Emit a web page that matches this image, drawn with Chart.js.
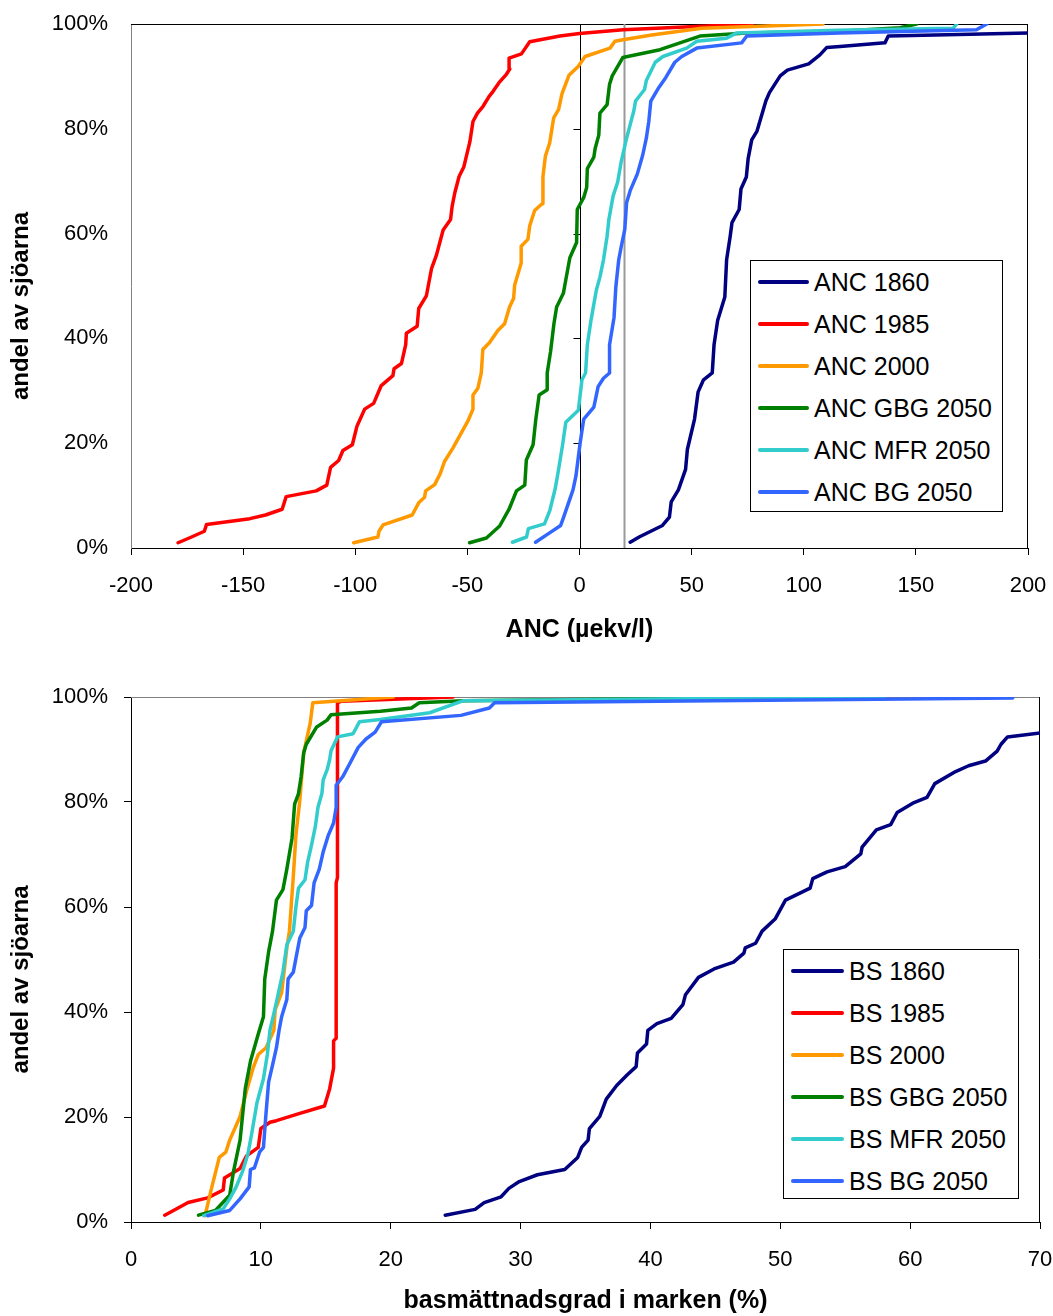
<!DOCTYPE html>
<html>
<head>
<meta charset="utf-8">
<title>ANC och basmättnadsgrad</title>
<script src="https://cdn.jsdelivr.net/npm/chart.js@4.4.1/dist/chart.umd.min.js"></script>
<style>
body { margin: 0; background: #fff; font-family: Arial, "Liberation Sans", sans-serif; }
#page { position: relative; width: 1053px; height: 1316px; overflow: hidden; }
#page canvas { position: absolute; left: 0; }
.legend { position: absolute; box-sizing: border-box; border: 1px solid #000; background: #fff; }
.legend .row { height: 42px; display: flex; align-items: center; font-size: 25px; color: #000; white-space: nowrap; }
.legend .swatch { display: inline-block; height: 4px; margin-left: 7px; margin-right: 5px; border-radius: 2px; }
</style>
</head>
<body>
<div id="page">
  <canvas id="ancChart" width="1053" height="658" style="top:0px"></canvas>
  <canvas id="bsChart" width="1053" height="658" style="top:658px"></canvas>
  <div id="ancLegend" class="legend" style="left:750px;top:260px;width:253px;height:252px"></div>
  <div id="bsLegend" class="legend" style="left:783px;top:949px;width:236px;height:250px"></div>
</div>
<script>
// ---- ANC (µekv/l) mot andel av sjöarna (%) ----
const ancLabels = ['ANC 1860', 'ANC 1985', 'ANC 2000', 'ANC GBG 2050', 'ANC MFR 2050', 'ANC BG 2050']

const anc1860_x = [22.6, 26.6, 37, 40.1, 40.9, 44.1, 47.3, 48.1, 51.3, 52.9, 55.3, 59.2, 60, 61.6, 64.8, 65.6, 67.2, 68, 71.2, 72, 74.4, 75.2, 76.8, 79.1, 83.1, 84.7, 89.5, 92.7, 102.2, 107.2, 110.2, 116.2, 136.2, 137.7, 200]
const anc1860_y = [1.1, 2.1, 4.3, 5.9, 8.8, 11.1, 15, 18.8, 24.6, 29.8, 32.1, 33.4, 38.8, 43.4, 47.9, 55, 59.5, 62.1, 64.6, 68.5, 70.8, 74.3, 77.9, 79.5, 85.3, 86.9, 90.1, 91.2, 92.4, 94.1, 95.5, 95.7, 96.4, 97.7, 98.3]

const anc1985_x = [-179, -173, -167.3, -166.3, -147, -140, -132.6, -130.8, -117.4, -112.7, -111, -107.4, -105.5, -101.3, -99.2, -95.8, -91.8, -88.4, -83.2, -82.7, -79.4, -77.5, -77.2, -72.4, -71.7, -68.3, -66, -63.8, -60.8, -57.5, -56.8, -55.6, -53.7, -51.6, -50.7, -48.9, -47.5, -45.5, -43, -40.3, -38.6, -35.9, -32.6, -31.1, -31.4, -25.9, -22.2, -8.7, 0, 19.4, 77]
const anc1985_y = [1, 2.1, 3.2, 4.5, 5.6, 6.3, 7.4, 9.8, 10.9, 12, 15.4, 16.7, 18.6, 19.7, 23.3, 26.5, 27.6, 31, 32.9, 34.2, 35.2, 38.8, 41, 42.3, 45.7, 48.1, 53.3, 55.9, 60.7, 62.7, 65.2, 67.8, 70.9, 72.7, 74.3, 77.5, 81.4, 83, 84.3, 86.2, 87.1, 88.8, 90.4, 91.4, 93.5, 94.3, 96.6, 97.7, 98.2, 98.9, 100]

const anc2000_x = [-100.7, -89.9, -89.4, -87.6, -74.6, -71.6, -69.1, -68.6, -64.6, -62.1, -60.2, -56.4, -49.8, -47.5, -47.5, -45.3, -43.8, -43.1, -40.1, -36.4, -33.4, -31.2, -29.4, -28.9, -26, -26, -23, -22.2, -20, -16.7, -16.3, -15.2, -13.3, -11.5, -9.3, -7.8, -4.7, -0.6, 2.5, 13.6, 15.8, 19.4, 32.2, 54.5, 108.6]
const anc2000_y = [1, 2.1, 3.2, 4.4, 6.3, 8.7, 9.7, 10.9, 12.1, 14.2, 16.5, 19.1, 24.2, 26.5, 29.2, 30.5, 33.4, 37.9, 39.2, 41.5, 42.8, 46, 47.6, 50.2, 54.4, 57.6, 58.9, 61.5, 64.4, 65.7, 70.9, 74.8, 77.3, 82.1, 83.7, 86.7, 90.2, 91.9, 93.8, 95.4, 96.7, 97, 97.9, 99.2, 100]

const ancGbg_x = [-49, -41.5, -35.6, -31.4, -28.1, -24.4, -23.7, -20.7, -19.5, -18, -14.4, -14.4, -12.9, -11.4, -10.2, -7.2, -6.1, -4.3, -1.3, -1, 1.9, 3.2, 3.5, 6.4, 7, 8.6, 9.1, 12.3, 13.4, 14.6, 19.3, 35.9, 53.7, 74.6, 116, 142.9, 150.4]
const ancGbg_y = [1, 1.9, 4.2, 7.4, 10.9, 12, 16.8, 19.7, 24.5, 29.2, 30.2, 33.4, 37.5, 42.8, 46, 48.6, 51.2, 55.4, 58.3, 64.6, 66.9, 68.8, 72.4, 74.6, 76.3, 78.8, 83, 84.6, 88.5, 90.1, 93.6, 95.1, 97.7, 98.3, 98.6, 99.3, 100]

const ancMfr_x = [-29.9, -23.6, -22.8, -15.6, -13.2, -10.8, -9.6, -7.6, -6.1, -0.5, 1.1, 2.7, 3.5, 5.1, 7.5, 9.1, 10.7, 12.3, 13.1, 15, 17, 18.6, 21, 22.6, 24.2, 25, 29, 29.8, 33.8, 37.2, 47.8, 52.3, 65.6, 70.1, 115, 166.7, 168.2]
const ancMfr_y = [1.1, 2.1, 3.7, 4.6, 7.2, 11.4, 14.3, 19.5, 24, 26.3, 32.1, 33.4, 38.8, 43.4, 49.2, 51.7, 55, 59.5, 62.7, 67.2, 69.8, 73.7, 78.2, 80.8, 83.4, 85.3, 87.5, 89.2, 92.7, 93.8, 95.4, 96.7, 97.3, 98.3, 98.8, 99.2, 100]

const ancBg_x = [-19.6, -14, -8.4, -7.3, -2.9, -1.6, 0.3, 1.9, 6.4, 8.3, 10.7, 13.4, 13.4, 15.4, 16.2, 17.5, 18.6, 20.2, 21, 22.6, 25.8, 28.2, 29.8, 30.9, 31.8, 35.4, 38.5, 42.5, 45.6, 52.3, 72.3, 74.6, 116, 177, 181.6]
const ancBg_y = [1.1, 2.7, 4.3, 5.6, 11.1, 13.7, 20.1, 24.6, 26.9, 30.8, 32.4, 33.4, 38.8, 44, 49.8, 55, 57.5, 60.8, 65.9, 68.2, 71.4, 75, 78.2, 81.4, 85.3, 87.9, 89.8, 92.7, 93.8, 95.4, 96.4, 97.7, 98.3, 98.9, 100]

const ancTicks = [-200, -150, -100, -50, 0, 50, 100, 150, 200]
const ancRefLines = [0, 20]

// ---- basmättnadsgrad (%) mot andel av sjöarna (%) ----
const bsLabels = ['BS 1860', 'BS 1985', 'BS 2000', 'BS GBG 2050', 'BS MFR 2050', 'BS BG 2050']

const bs1860_x = [24.2, 26.5, 27.2, 28.5, 29.1, 29.9, 31.3, 33.4, 34.4, 34.7, 35.2, 35.3, 36.1, 36.6, 37.4, 38.2, 38.9, 39, 39.7, 39.8, 40.5, 41.6, 42.5, 42.7, 43.7, 44.9, 46.4, 47.2, 47.3, 48.1, 48.6, 49.6, 50.4, 52.3, 52.5, 53.6, 55, 56.2, 56.3, 57.4, 58.5, 59, 60.3, 61.3, 61.9, 63.5, 64.5, 65.8, 66.7, 67, 67.5, 70.2]
const bs1860_y = [1.3, 2.4, 3.7, 4.8, 6.4, 7.7, 9, 10, 12.3, 14.2, 15.6, 17.8, 20.1, 23.4, 26, 28, 29.6, 32.2, 33.9, 36.5, 37.8, 38.8, 41.4, 43.3, 46.6, 48.2, 49.5, 51.2, 52.2, 53.1, 55.4, 57.7, 61.3, 63.6, 65.4, 66.7, 67.7, 70.1, 71.4, 74.7, 75.7, 78, 79.9, 80.9, 83.5, 85.8, 86.9, 87.8, 89.7, 91, 92.4, 93.2]

const bs1985_x = [2.6, 4.4, 5.9, 7.1, 7.2, 8.4, 8.9, 9.8, 10, 10.7, 11.2, 13, 14.9, 15.3, 15.6, 15.6, 15.8, 15.8, 15.9, 15.9, 16.2, 24.8]
const bs1985_y = [1.3, 3.7, 4.6, 6.1, 8.4, 10.2, 12.6, 14.2, 17.8, 19, 19.3, 20.7, 22.1, 25.4, 29.3, 34.5, 35, 64.6, 65.6, 98.9, 99.2, 100]

const bs2000_x = [5.7, 6.2, 6.8, 7.3, 7.6, 8.4, 8.9, 9.4, 9.8, 10.4, 11, 11.1, 11.6, 12, 12.2, 12.5, 12.7, 13, 13.3, 13.8, 14, 20.2]
const bs2000_y = [1.2, 6.4, 12.3, 13.3, 15.6, 20.1, 25, 29.3, 31.9, 33.2, 36.5, 40.4, 43.7, 52.2, 55.4, 65.9, 73.7, 80.3, 89.4, 95, 98.9, 100]

const bsGbg_x = [5.2, 6.5, 7.6, 7.9, 8.4, 8.8, 9.2, 9.8, 10.2, 10.3, 10.6, 10.9, 11.2, 11.7, 12, 12.4, 12.6, 12.9, 13.1, 13.3, 13.5, 14.3, 15.1, 15.4, 19.2, 21.6, 22.2, 25.6, 52.3]
const bsGbg_y = [1.3, 2.2, 5.1, 9.7, 15.6, 25.4, 30.6, 35.8, 39.1, 46.3, 51.5, 55.4, 61.3, 63.3, 67.2, 73.1, 79.6, 81.6, 84.8, 89.4, 91, 94.3, 95.6, 96.6, 97.3, 97.9, 98.9, 99.3, 100]

const bsMfr_x = [5.6, 7.1, 7.6, 8.1, 8.6, 9, 9.3, 9.7, 10.2, 10.5, 10.7, 11, 11.3, 11.7, 12, 12.5, 12.7, 12.9, 13.4, 13.6, 13.9, 14.2, 14.4, 14.7, 14.8, 15.1, 15.3, 15.4, 15.9, 17.1, 17.6, 19.2, 23, 25.6, 58]
const bsMfr_y = [1.2, 2.5, 4.4, 6.7, 9.7, 12.9, 16.9, 22.7, 27.3, 31.9, 36.5, 39.7, 43, 47.6, 52.8, 55.4, 60, 63.6, 65.2, 68.5, 71.8, 75.4, 79, 81.6, 84.2, 86.1, 88.1, 89.7, 92.4, 93, 95.3, 95.7, 97, 99.3, 100]

const bsBg_x = [5.9, 7.6, 8.4, 9.1, 9.2, 9.5, 9.9, 10.2, 10.4, 10.6, 10.9, 11.2, 11.4, 11.6, 12, 12.1, 12.5, 12.7, 13, 13.4, 13.5, 13.9, 14.1, 14.5, 14.8, 15.2, 15.6, 15.8, 15.8, 16.3, 16.8, 17.5, 18.1, 18.8, 19.3, 25.4, 27.6, 28, 67.9]
const bsBg_y = [1.2, 2.2, 4.4, 6.7, 10, 10.3, 13.3, 14.2, 20.8, 26.7, 29.9, 33.2, 36.5, 39.1, 42.4, 46.3, 47.6, 50.2, 54.1, 56.1, 59.3, 60.3, 64.6, 67.2, 70.5, 73.7, 76, 79, 83.2, 84.8, 87.1, 90.4, 92, 93.3, 95.3, 96.5, 97.9, 98.9, 99.8]

const bsTicks = [0, 10, 20, 30, 40, 50, 60, 70]
const pctTicks = [0, 20, 40, 60, 80, 100]

const colors = ['#000080', '#FF0000', '#FF9900', '#008000', '#33CCCC', '#3366FF']

Chart.defaults.font.family = 'Arial, "Liberation Sans", sans-serif'
Chart.defaults.color = '#000'

// builds one line per series, last series drawn on top as in the original
var makeDatasets = (labels, xs, ys) => labels.map((label, i) => ({
    label: label,
    data: xs[i].map((x, j) => ({x: x, y: ys[i][j]})),
    borderColor: colors[i],
    backgroundColor: colors[i],
    borderWidth: 3.5,
    borderJoinStyle: 'round',
    borderCapStyle: 'round',
    pointRadius: 0,
    pointHoverRadius: 0,
    showLine: true,
    tension: 0,
    fill: false,
    order: labels.length - i,
}))

// plot frame, reference lines and the tick marks on the crossing axis
const framePlugin = {
    id: 'frame',
    beforeDatasetsDraw(chart, args, opts) {
        const ctx = chart.ctx
        const a = chart.chartArea
        const xs = chart.scales.x
        const ys = chart.scales.y
        ctx.save()
        ctx.lineWidth = 1
        ctx.strokeStyle = opts.topColor
        ctx.beginPath()
        ctx.moveTo(a.left, a.top + 0.5)
        ctx.lineTo(a.right, a.top + 0.5)
        ctx.stroke()
        ctx.strokeStyle = opts.rightColor
        ctx.beginPath()
        ctx.moveTo(a.right - 0.5, a.top)
        ctx.lineTo(a.right - 0.5, a.bottom)
        ctx.stroke()
        const refs = opts.refLines || []
        refs.forEach(r => {
            const px = Math.round(xs.getPixelForValue(r.value)) + 0.5
            ctx.strokeStyle = r.color
            ctx.lineWidth = r.width
            ctx.beginPath()
            ctx.moveTo(px, a.top)
            ctx.lineTo(px, a.bottom)
            ctx.stroke()
            if (r.ticks) {
                ctx.lineWidth = 1
                ys.ticks.forEach(t => {
                    const py = Math.round(ys.getPixelForValue(t.value)) + 0.5
                    ctx.beginPath()
                    ctx.moveTo(px - 7, py)
                    ctx.lineTo(px, py)
                    ctx.stroke()
                })
            }
        })
        ctx.restore()
    }
}

var tickFont = {size: 22}
var titleFont = {size: 24, weight: 'bold', lineHeight: 1.2}

var makeChart = (canvasId, cfg) => new Chart(document.getElementById(canvasId), {
    type: 'scatter',
    data: {datasets: cfg.datasets},
    options: {
        responsive: false,
        animation: false,
        devicePixelRatio: 1,
        events: [],
        layout: {padding: {left: 0, right: cfg.padRight, top: cfg.padTop, bottom: 0}},
        plugins: {
            legend: {display: false},
            tooltip: {enabled: false},
            frame: {topColor: cfg.topColor, rightColor: '#000', refLines: cfg.refLines},
        },
        scales: {
            x: {
                type: 'linear',
                min: cfg.xTicks[0],
                max: cfg.xTicks[cfg.xTicks.length - 1],
                afterBuildTicks: s => { s.ticks = cfg.xTicks.map(v => ({value: v})) },
                afterFit: s => {
                    s.height = cfg.xAxisHeight
                    s.paddingLeft = 0
                    s.paddingRight = 0
                },
                grid: {drawOnChartArea: false, drawTicks: true, tickLength: 7, color: '#000'},
                border: {display: true, color: '#000', width: 1},
                ticks: {padding: 18, font: tickFont, maxRotation: 0, autoSkip: false, color: '#000'},
                title: {display: true, text: cfg.xTitle, font: {size: cfg.xTitleSize, weight: 'bold', lineHeight: 1.2}, color: '#000', padding: {top: 0, bottom: cfg.xTitlePad}},
            },
            y: {
                type: 'linear',
                min: 0,
                max: 100,
                afterBuildTicks: s => { s.ticks = pctTicks.map(v => ({value: v})) },
                afterFit: s => {
                    s.width = 131
                    s.paddingTop = 0
                    s.paddingBottom = 0
                },
                grid: {drawOnChartArea: false, drawTicks: cfg.yTicksOnAxis, tickLength: 7, color: '#000'},
                border: {display: true, color: cfg.leftColor, width: 1},
                ticks: {padding: cfg.yTicksOnAxis ? 16 : 23, font: tickFont, color: '#000', callback: v => v + '%'},
                title: {display: true, text: 'andel av sjöarna      ', font: titleFont, color: '#000', padding: {top: 7, bottom: 0}},
            },
        },
    },
    plugins: [framePlugin],
})

var fillLegend = (elId, labels) => {
    const box = document.getElementById(elId)
    labels.forEach((label, i) => {
        const row = document.createElement('div')
        row.className = 'row'
        const sw = document.createElement('span')
        sw.className = 'swatch'
        sw.style.width = (elId == 'ancLegend' ? 51 : 53) + 'px'
        sw.style.background = colors[i]
        const txt = document.createElement('span')
        txt.textContent = label
        row.appendChild(sw)
        row.appendChild(txt)
        box.appendChild(row)
    })
}

const ancChart = makeChart('ancChart', {
    datasets: makeDatasets(ancLabels,
        [anc1860_x, anc1985_x, anc2000_x, ancGbg_x, ancMfr_x, ancBg_x],
        [anc1860_y, anc1985_y, anc2000_y, ancGbg_y, ancMfr_y, ancBg_y]),
    xTicks: ancTicks,
    xTitle: 'ANC (µekv/l)',
    xTitleSize: 25,
    xTitlePad: 13,
    xAxisHeight: 110,
    padTop: 24,
    padRight: 25,
    topColor: '#000',
    leftColor: '#808080',
    yTicksOnAxis: false,
    refLines: [
        {value: ancRefLines[0], color: '#000', width: 1, ticks: true},
        {value: ancRefLines[1], color: '#999', width: 2, ticks: false},
    ],
})

const bsChart = makeChart('bsChart', {
    datasets: makeDatasets(bsLabels,
        [bs1860_x, bs1985_x, bs2000_x, bsGbg_x, bsMfr_x, bsBg_x],
        [bs1860_y, bs1985_y, bs2000_y, bsGbg_y, bsMfr_y, bsBg_y]),
    xTicks: bsTicks,
    xTitle: 'basmättnadsgrad i marken (%)',
    xTitleSize: 25,
    xTitlePad: 0,
    xAxisHeight: 94,
    padTop: 39,
    padRight: 13,
    topColor: '#808080',
    leftColor: '#000',
    yTicksOnAxis: true,
    refLines: [],
})

fillLegend('ancLegend', ancLabels)
fillLegend('bsLegend', bsLabels)
</script>
</body>
</html>
